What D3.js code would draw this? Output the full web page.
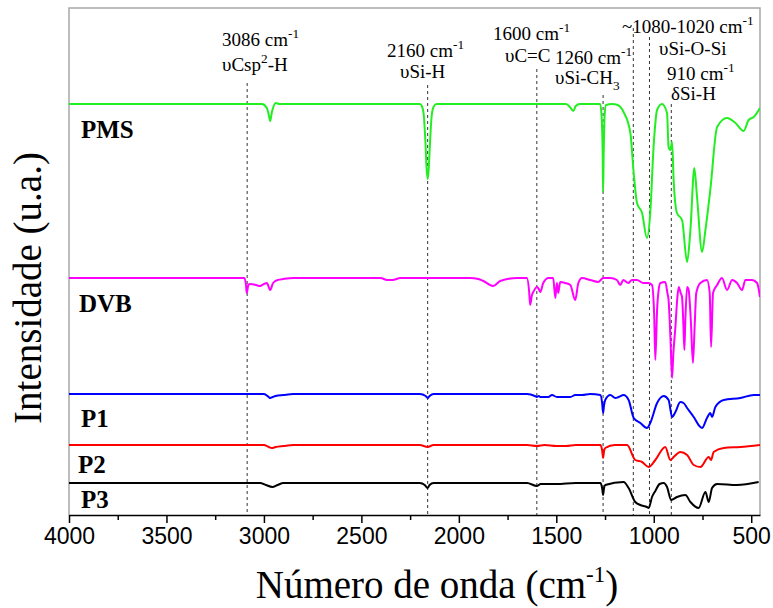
<!DOCTYPE html>
<html>
<head>
<meta charset="utf-8">
<script src="https://cdn.jsdelivr.net/npm/d3@7"></script>
<style>
body { margin: 0; background: #fff; }
text { font-family: "Liberation Serif", "Times New Roman", serif; fill: #000; }
.tick text { font-family: "Liberation Sans", Arial, sans-serif; }
</style>
</head>
<body>
<svg id="svg1" width="773" height="608"></svg>
<script>
// wavenumber (cm-1), intensity (a.u., series already stacked)
var pms = [[4000,411],[3600,411],[3300,411],[3100,411],[3010,411],[2985,407],[2975,400],[2968,394],[2960,402],[2950,409],[2940,412],[2920,411],[2500,411],[2200,411],[2190,409],[2180,400],[2172,375],[2165,345],[2160,336],[2155,345],[2148,372],[2140,398],[2130,408],[2115,411],[1800,411],[1450,411],[1430,408],[1413,404],[1400,409],[1380,411],[1275,411],[1268,400],[1262,360],[1260,323],[1257,360],[1252,400],[1245,410],[1214,411],[1185,410],[1155,403],[1120,382],[1103,342],[1086,312],[1060,302],[1035,277],[1018,302],[1001,368],[983,405],[958,411],[932,402],[924,368],[915,365],[906,373],[898,335],[881,302],[855,295],[829,253],[812,285],[792,347],[778,318],[752,263],[735,285],[710,325],[675,388],[624,397],[581,392],[539,384],[513,395],[487,398],[455,407]];
var dvb = [[4000,237],[3500,237],[3200,237],[3100,237],[3092,230],[3088,222],[3080,230],[3071,231],[3040,230],[3020,229],[3000,231],[2985,232],[2968,225],[2953,232],[2930,235],[2900,236],[2850,237],[2400,237],[2369,235],[2340,235],[2300,237],[1942,237],[1900,236],[1875,234],[1824,229],[1788,234],[1700,237],[1651,237],[1640,225],[1634,210],[1625,220],[1618,223],[1599,228],[1590,226],[1582,223],[1567,232],[1540,237],[1516,237],[1505,217],[1497,232],[1490,222],[1480,233],[1454,232],[1428,230],[1403,215],[1387,232],[1368,237],[1326,235],[1285,233],[1259,237],[1223,237],[1189,235],[1172,230],[1156,235],[1131,232],[1112,235],[1086,235],[1054,232],[1028,232],[1009,230],[998,200],[992,155],[983,205],[975,225],[966,232],[941,233],[930,222],[924,215],[915,180],[906,137],[900,160],[889,188],[880,215],[872,228],[862,222],[855,218],[848,190],[843,165],[838,195],[829,228],[821,225],[810,195],[799,152],[790,190],[782,222],[761,232],[727,235],[713,222],[706,168],[696,222],[675,230],[650,237],[624,225],[598,235],[573,232],[547,225],[530,235],[496,235],[470,232],[455,218]];
var p1 = [[4000,121],[3500,121],[3100,121],[3000,121],[2975,118],[2968,117],[2955,118],[2940,119],[2900,120],[2850,121],[2200,121],[2170,119],[2160,117],[2150,119],[2130,121],[1650,121],[1610,119],[1600,118],[1590,119],[1582,118],[1541,118],[1522,120],[1497,118],[1454,118],[1428,118],[1403,120],[1368,120],[1326,121],[1274,120],[1265,112],[1260,102],[1255,110],[1249,115],[1223,120],[1197,117],[1180,118],[1155,120],[1129,115],[1103,97],[1069,92],[1035,87],[1018,92],[983,112],[949,119],[924,115],[906,98],[889,103],[864,113],[847,112],[829,107],[795,98],[770,90],[752,87],[727,97],[710,102],[701,98],[684,108],[641,115],[556,117],[487,120],[455,120]];
var p2 = [[4000,70],[3500,70],[3100,70],[3000,70],[2975,68],[2960,67],[2940,68],[2900,69],[2850,70],[2200,70],[2160,68],[2130,70],[1650,70],[1600,69],[1560,70],[1500,69],[1450,69],[1400,70],[1274,70],[1265,65],[1260,57],[1255,64],[1249,67],[1200,70],[1137,70],[1095,55],[1060,53],[1026,48],[992,55],[941,68],[915,55],[898,58],[864,63],[829,60],[795,50],[761,48],[718,58],[706,55],[693,63],[641,67],[556,68],[455,70]];
var p3 = [[4000,32],[3500,32],[3100,32],[3020,32],[2990,30],[2957,28],[2930,30],[2900,32],[2200,32],[2175,30],[2160,27],[2150,30],[2130,32],[1650,32],[1600,29],[1580,31],[1500,31],[1400,32],[1274,32],[1265,27],[1260,20],[1255,27],[1249,30],[1155,33],[1129,27],[1095,13],[1069,10],[1035,8],[1026,7],[1009,18],[992,24],[970,31],[949,32],[932,28],[911,15],[881,18],[838,20],[812,13],[770,7],[735,23],[718,13],[701,27],[675,31],[573,30],[462,33]];

var seriesNames = ["PMS","DVB","P1","P2","P3"];
var seriesColors = ["#22ee22","#ff00ff","#0000ff","#ff0000","#000000"];
var seriesData = [pms, dvb, p1, p2, p3];

var majorTicks = [4000,3500,3000,2500,2000,1500,1000,500];
var minorTicks = [3750,3250,2750,2250,1750,1250,750];
var peakLines = [3086,2160,1600,1260,1105,1022,910];

var svg = d3.select("#svg1");
var mLeft = 69, mRight = 760, mTop = 8, mBottom = 515;

var x = d3.scaleLinear().domain([4000,455]).range([mLeft,mRight]);
var y = d3.scaleLinear().domain([0,507]).range([mBottom,mTop]);

svg.append("defs").append("clipPath").attr("id","clip")
  .append("rect").attr("x",mLeft).attr("y",mTop).attr("width",mRight-mLeft).attr("height",mBottom-mTop);

// frame
svg.append("path")
  .attr("d","M"+mLeft+","+mBottom+"V"+mTop+"H"+mRight+"V"+mBottom)
  .style("fill","none").style("stroke","#a8a8a8").style("stroke-width","1.5px");

// dashed guide lines
var lineTop = {3086:83,2160:85,1600:69,1260:95,1105:28,1022:37,910:104};
svg.selectAll("line.guide")
  .data(peakLines)
  .enter().append("line")
  .attr("class","guide")
  .attr("x1",function(d){return x(d);})
  .attr("x2",function(d){return x(d);})
  .attr("y1",function(d){return lineTop[d];})
  .attr("y2",mBottom)
  .style("stroke","#333").style("stroke-width","1px").style("stroke-dasharray","3,3");

// spectra
var line = d3.line()
  .x(function(d){return x(d[0]);})
  .y(function(d){return y(d[1]);})
  .curve(d3.curveMonotoneX);

svg.append("g").attr("clip-path","url(#clip)")
  .selectAll("path")
  .data(seriesData)
  .enter().append("path")
  .attr("d",line)
  .style("fill","none")
  .style("stroke",function(d,i){return seriesColors[i];})
  .style("stroke-width","2px")
  .style("stroke-linejoin","round");

// x axis
var xAxis = svg.append("g")
  .attr("transform","translate(0,"+mBottom+")")
  .call(d3.axisBottom(x).tickValues(majorTicks).tickFormat(d3.format("d")).tickSize(8).tickPadding(5).tickSizeOuter(0));
xAxis.select(".domain").style("stroke-width","1.5px");
xAxis.selectAll(".tick line").style("stroke-width","1.5px");
xAxis.selectAll(".tick text").style("font-size","23px");
var xMinor = svg.append("g")
  .attr("transform","translate(0,"+mBottom+")")
  .call(d3.axisBottom(x).tickValues(minorTicks).tickSize(5).tickFormat("").tickSizeOuter(0));
xMinor.select(".domain").remove();
xMinor.selectAll(".tick line").style("stroke-width","1.5px");

// axis titles
var xt = svg.append("text").attr("x",437).attr("y",598).style("font-size","39px").attr("text-anchor","middle");
xt.append("tspan").text("Número de onda (cm");
xt.append("tspan").text("-1").attr("dy",-16).style("font-size","23px");
xt.append("tspan").text(")").attr("dy",16);

svg.append("text")
  .attr("transform","translate(41,288) rotate(-90)")
  .attr("text-anchor","middle")
  .style("font-size","39px")
  .text("Intensidade (u.a.)");

// series labels
var labelPos = [[81,138],[79,312],[81,427],[78,473],[81,508]];
svg.selectAll("text.series")
  .data(seriesNames)
  .enter().append("text")
  .attr("class","series")
  .attr("x",function(d,i){return labelPos[i][0];})
  .attr("y",function(d,i){return labelPos[i][1];})
  .style("font-size","25px").style("font-weight","bold")
  .text(function(d){return d;});

// band annotations
function note(px, py, parts, size) {
  var t = svg.append("text").attr("x",px).attr("y",py).style("font-size",size+"px");
  var cur = 0;
  parts.forEach(function(p){
    var off = p[1]==="sup" ? -size*0.42 : (p[1]==="sub" ? size*0.3 : 0);
    var s = t.append("tspan").text(p[0]).attr("dy",off-cur);
    if (p[1]) s.style("font-size",(size*0.7)+"px");
    cur = off;
  });
}
var fs = 19;
note(222,46,[["3086 cm"],["-1","sup"]],fs);
note(222,71,[["\u03c5Csp"],["2","sup"],["-H"]],fs);
note(387,57,[["2160 cm"],["-1","sup"]],fs);
note(400,78,[["\u03c5Si-H"]],fs);
note(493,40,[["1600 cm"],["-1","sup"]],fs);
note(505,62,[["\u03c5C=C"]],fs);
note(555,64,[["1260 cm"],["-1","sup"]],fs);
note(555,84,[["\u03c5Si-CH"],["3","sub"]],fs);
note(622,33,[["~1080-1020 cm"],["-1","sup"]],fs);
note(659,55,[["\u03c5Si-O-Si"]],fs);
note(667,80,[["910 cm"],["-1","sup"]],fs);
note(671,100,[["\u03b4Si-H"]],fs);
</script>
</body>
</html>
